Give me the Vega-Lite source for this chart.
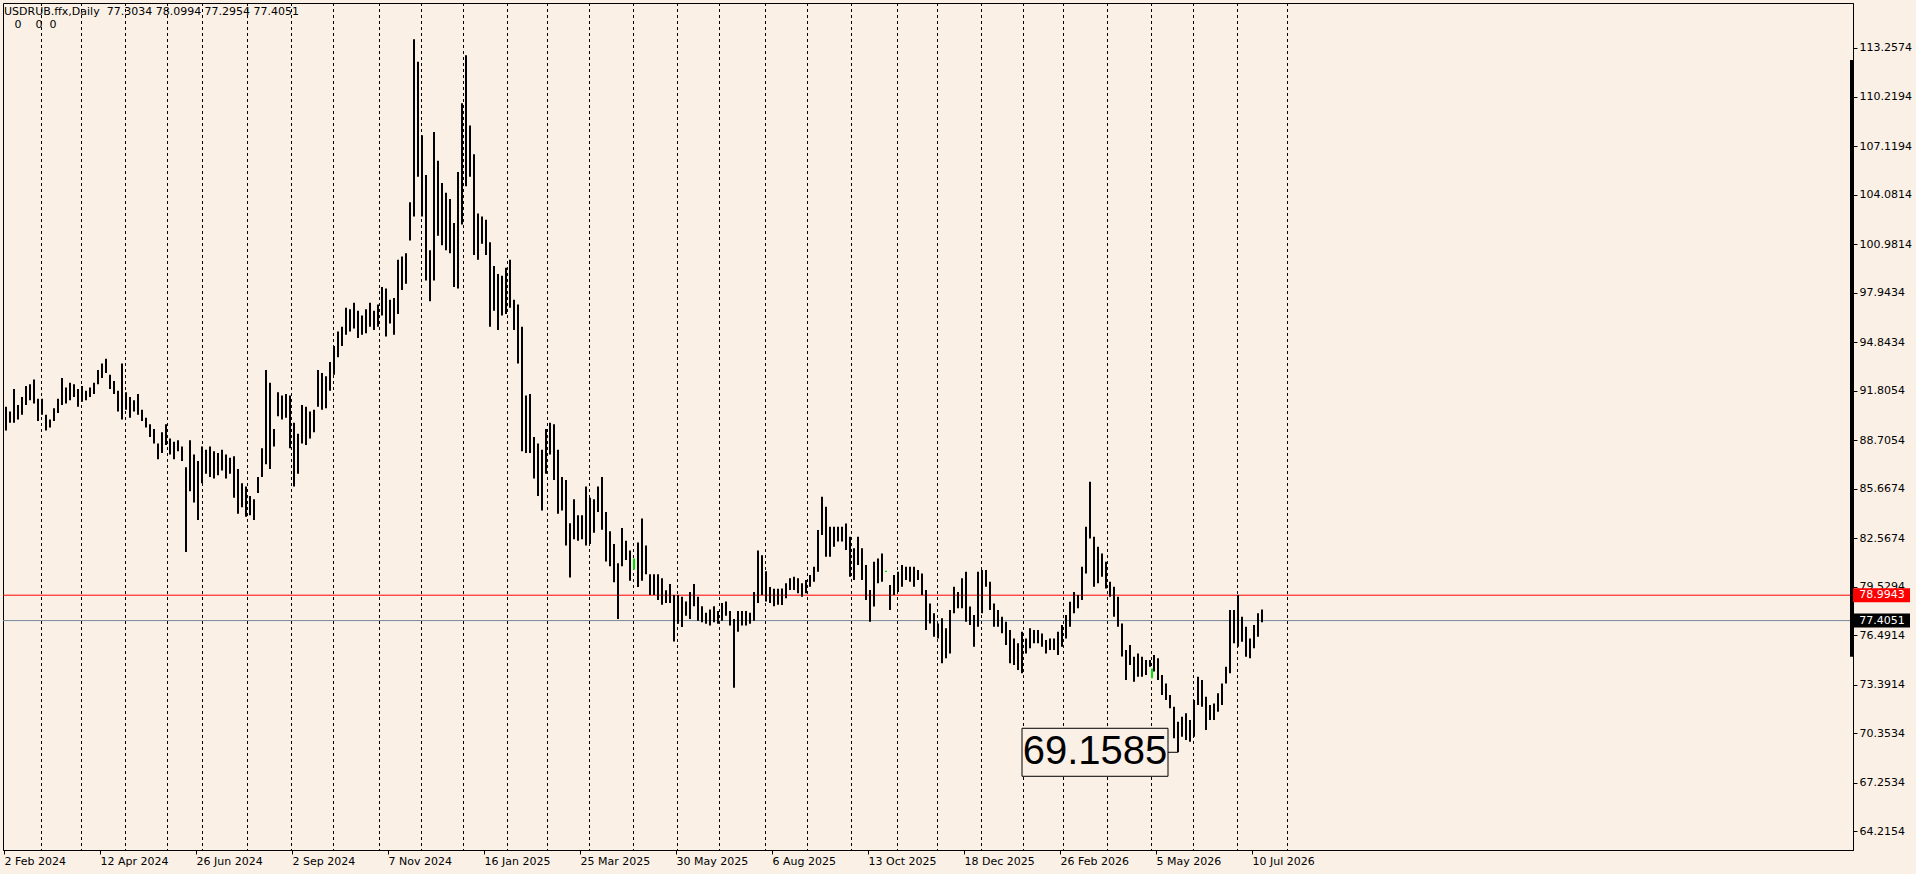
{
  "$schema": "https://vega.github.io/schema/vega-lite/v6.json",
  "width": 1850,
  "height": 847,
  "autosize": "none",
  "padding": {"left": 3, "top": 3, "right": 63, "bottom": 24},
  "background": "#FAF0E6",
  "title": {
    "text": ["USDRUB.ffx,Daily\u00a0\u00a077.3034 78.0994 77.2954 77.4051", "\u200b\u00a0\u00a0\u00a00\u00a0\u00a0\u00a0\u00a00\u00a0\u00a00"],
    "anchor": "start",
    "frame": "group",
    "orient": "top",
    "offset": 0,
    "dx": 1,
    "dy": 27,
    "font": "DejaVu Sans",
    "fontSize": 11,
    "fontWeight": "normal",
    "color": "#000000",
    "lineHeight": 12.5
  },
  "datasets": {
    "months": [
      {"i": 18.75}, {"i": 38.75}, {"i": 60.75}, {"i": 81.75}, {"i": 99.25}, {"i": 121.75},
      {"i": 143.75}, {"i": 164.75}, {"i": 187.75}, {"i": 208.75}, {"i": 229.75}, {"i": 251.75},
      {"i": 271.75}, {"i": 292.75}, {"i": 314.75}, {"i": 336.75}, {"i": 357.75}, {"i": 380.75},
      {"i": 401.75}, {"i": 423.75}, {"i": 446.75}, {"i": 466.75}, {"i": 488.75}, {"i": 509.75},
      {"i": 529.75}, {"i": 551.75}, {"i": 573.75}, {"i": 594.75}, {"i": 616.75}, {"i": 641.75}
    ],
    "levels": [
      {"name": "level", "p": 78.9943},
      {"name": "last", "p": 77.4051}
    ],
    "low": [{"i": 587, "p": 69.1585}],
    "range": [{"hi": 112.51, "lo": 75.14}],
    "doji": [
      {"i": 315, "h": 81.3, "l": 80.6},
      {"i": 441, "h": 80.52, "l": 80.44},
      {"i": 574, "h": 74.41, "l": 73.79}
    ],
    "bars": [
      {"i":1,"h":90.8,"l":89.3},{"i":3,"h":90.5,"l":89.8},{"i":5,"h":91.9,"l":89.8},{"i":7,"h":90.9,"l":90.0},
      {"i":9,"h":91.4,"l":90.3},{"i":11,"h":92.1,"l":90.9},{"i":13,"h":92.2,"l":91.2},{"i":15,"h":92.5,"l":91.0},
      {"i":17,"h":91.3,"l":89.9},{"i":19,"h":91.3,"l":90.3},{"i":21,"h":90.3,"l":89.3},{"i":23,"h":90.0,"l":89.5},
      {"i":25,"h":90.7,"l":89.9},{"i":27,"h":91.3,"l":90.4},{"i":29,"h":92.6,"l":90.9},{"i":31,"h":92.0,"l":91.0},
      {"i":33,"h":92.3,"l":91.2},{"i":35,"h":92.2,"l":91.4},{"i":37,"h":91.9,"l":90.8},{"i":39,"h":92.1,"l":91.1},
      {"i":41,"h":91.8,"l":91.2},{"i":43,"h":92.0,"l":91.4},{"i":45,"h":92.3,"l":91.6},{"i":47,"h":93.1,"l":92.2},
      {"i":49,"h":93.5,"l":92.6},{"i":51,"h":93.8,"l":92.9},{"i":53,"h":92.8,"l":91.9},{"i":55,"h":92.4,"l":91.6},
      {"i":57,"h":91.8,"l":90.5},{"i":59,"h":93.5,"l":90.0},{"i":61,"h":91.7,"l":90.6},{"i":63,"h":91.4,"l":90.1},
      {"i":65,"h":91.2,"l":90.5},{"i":67,"h":91.6,"l":90.3},{"i":69,"h":90.6,"l":89.9},{"i":71,"h":90.1,"l":89.5},
      {"i":73,"h":89.7,"l":88.9},{"i":75,"h":89.4,"l":88.5},{"i":77,"h":88.5,"l":87.5},{"i":79,"h":89.2,"l":87.9},
      {"i":81,"h":89.7,"l":88.4},{"i":83,"h":88.8,"l":87.8},{"i":85,"h":88.6,"l":87.5},{"i":87,"h":88.7,"l":88.0},
      {"i":89,"h":88.3,"l":87.4},{"i":91,"h":87.0,"l":81.7},{"i":93,"h":88.7,"l":85.5},{"i":95,"h":87.8,"l":84.8},
      {"i":97,"h":87.4,"l":83.7},{"i":99,"h":88.3,"l":86.0},{"i":101,"h":88.1,"l":86.6},{"i":103,"h":88.3,"l":86.4},
      {"i":105,"h":88.0,"l":86.3},{"i":107,"h":87.9,"l":86.5},{"i":109,"h":88.1,"l":86.8},{"i":111,"h":87.8,"l":86.3},
      {"i":113,"h":87.6,"l":86.6},{"i":115,"h":87.7,"l":85.1},{"i":117,"h":86.9,"l":84.1},{"i":119,"h":86.0,"l":84.5},
      {"i":121,"h":85.8,"l":83.9},{"i":123,"h":85.2,"l":84.0},{"i":125,"h":85.0,"l":83.7},{"i":127,"h":86.4,"l":85.4},
      {"i":129,"h":88.2,"l":86.4},{"i":131,"h":93.1,"l":87.2},{"i":133,"h":92.3,"l":86.9},{"i":135,"h":89.4,"l":88.3},
      {"i":137,"h":91.7,"l":90.2},{"i":139,"h":91.5,"l":90.0},{"i":141,"h":91.6,"l":90.1},{"i":143,"h":91.5,"l":88.2},
      {"i":145,"h":89.8,"l":85.8},{"i":147,"h":89.1,"l":86.6},{"i":149,"h":90.9,"l":88.5},{"i":151,"h":90.8,"l":88.4},
      {"i":153,"h":90.5,"l":88.8},{"i":155,"h":90.6,"l":89.2},{"i":157,"h":93.1,"l":90.8},{"i":159,"h":92.9,"l":90.6},
      {"i":161,"h":92.7,"l":90.7},{"i":163,"h":93.6,"l":91.8},{"i":165,"h":94.6,"l":92.8},{"i":167,"h":95.5,"l":93.9},
      {"i":169,"h":95.8,"l":94.6},{"i":171,"h":97.0,"l":95.3},{"i":173,"h":96.9,"l":95.5},{"i":175,"h":97.3,"l":95.7},
      {"i":177,"h":96.8,"l":95.1},{"i":179,"h":96.5,"l":95.3},{"i":181,"h":96.9,"l":95.4},{"i":183,"h":97.3,"l":95.8},
      {"i":185,"h":96.8,"l":95.6},{"i":187,"h":97.2,"l":95.8},{"i":189,"h":98.3,"l":96.5},{"i":191,"h":98.2,"l":95.2},
      {"i":193,"h":97.5,"l":96.0},{"i":195,"h":97.6,"l":95.3},{"i":197,"h":100.0,"l":96.6},{"i":199,"h":100.2,"l":98.1},
      {"i":201,"h":100.4,"l":98.5},{"i":203,"h":103.6,"l":101.2},{"i":205,"h":113.8,"l":102.7},{"i":207,"h":112.4,"l":105.2},
      {"i":209,"h":107.8,"l":102.7},{"i":211,"h":105.3,"l":98.7},{"i":213,"h":100.6,"l":97.4},{"i":215,"h":108.0,"l":98.7},
      {"i":217,"h":106.2,"l":101.5},{"i":219,"h":104.8,"l":100.9},{"i":221,"h":104.2,"l":100.6},{"i":223,"h":103.8,"l":100.4},
      {"i":225,"h":102.3,"l":98.3},{"i":227,"h":105.5,"l":98.2},{"i":229,"h":109.8,"l":102.2},{"i":231,"h":112.8,"l":104.6},
      {"i":233,"h":108.4,"l":105.2},{"i":235,"h":106.6,"l":100.3},{"i":237,"h":102.9,"l":100.0},{"i":239,"h":102.7,"l":101.0},
      {"i":241,"h":102.5,"l":100.3},{"i":243,"h":101.1,"l":95.8},{"i":245,"h":99.6,"l":96.8},{"i":247,"h":99.1,"l":95.6},
      {"i":249,"h":99.0,"l":96.5},{"i":251,"h":99.5,"l":96.6},{"i":253,"h":100.0,"l":97.0},{"i":255,"h":97.5,"l":95.6},
      {"i":257,"h":97.2,"l":93.5},{"i":259,"h":95.8,"l":88.0},{"i":261,"h":91.5,"l":87.9},{"i":263,"h":91.6,"l":87.9},
      {"i":265,"h":88.9,"l":86.3},{"i":267,"h":88.5,"l":85.2},{"i":269,"h":88.1,"l":84.3},{"i":271,"h":89.4,"l":86.6},
      {"i":273,"h":89.8,"l":87.8},{"i":275,"h":89.7,"l":86.2},{"i":277,"h":88.1,"l":84.1},{"i":279,"h":86.4,"l":84.3},
      {"i":281,"h":86.2,"l":82.1},{"i":283,"h":83.5,"l":80.1},{"i":285,"h":85.0,"l":82.5},{"i":287,"h":84.0,"l":82.4},
      {"i":289,"h":84.0,"l":82.5},{"i":291,"h":85.8,"l":82.1},{"i":293,"h":85.1,"l":82.2},{"i":295,"h":85.0,"l":82.9},
      {"i":297,"h":85.8,"l":84.2},{"i":299,"h":86.4,"l":83.1},{"i":301,"h":84.2,"l":81.1},{"i":303,"h":83.0,"l":80.8},
      {"i":305,"h":82.2,"l":79.8},{"i":307,"h":81.0,"l":77.5},{"i":309,"h":83.2,"l":80.8},{"i":311,"h":82.4,"l":81.2},
      {"i":313,"h":81.8,"l":79.9},{"i":317,"h":82.3,"l":79.5},{"i":319,"h":83.8,"l":79.9},{"i":321,"h":82.1,"l":80.3},
      {"i":323,"h":80.3,"l":79.0},{"i":325,"h":80.3,"l":79.0},{"i":327,"h":80.3,"l":78.7},{"i":329,"h":80.05,"l":78.4},
      {"i":331,"h":79.3,"l":78.5},{"i":333,"h":79.7,"l":78.5},{"i":335,"h":79.0,"l":76.1},{"i":337,"h":79.0,"l":77.2},
      {"i":339,"h":78.9,"l":77.0},{"i":341,"h":78.6,"l":77.7},{"i":343,"h":79.2,"l":77.5},{"i":345,"h":79.7,"l":78.3},
      {"i":347,"h":78.9,"l":77.4},{"i":349,"h":78.3,"l":77.3},{"i":351,"h":77.9,"l":77.2},{"i":353,"h":78.1,"l":77.1},
      {"i":355,"h":78.3,"l":77.3},{"i":357,"h":78.0,"l":77.2},{"i":359,"h":78.5,"l":77.4},{"i":361,"h":78.6,"l":77.7},
      {"i":363,"h":78.0,"l":77.1},{"i":365,"h":77.5,"l":73.2},{"i":367,"h":78.0,"l":76.7},{"i":369,"h":78.0,"l":77.1},
      {"i":371,"h":78.0,"l":77.1},{"i":373,"h":77.9,"l":77.2},{"i":375,"h":79.2,"l":77.4},{"i":377,"h":81.8,"l":78.5},
      {"i":379,"h":81.5,"l":79.0},{"i":381,"h":80.5,"l":78.6},{"i":383,"h":79.5,"l":78.5},{"i":385,"h":79.4,"l":78.3},
      {"i":387,"h":79.4,"l":78.4},{"i":389,"h":79.42,"l":78.38},{"i":391,"h":79.74,"l":78.8},{"i":393,"h":80.05,"l":79.32},
      {"i":395,"h":80.15,"l":79.32},{"i":397,"h":80.05,"l":79.11},{"i":399,"h":79.74,"l":78.9},{"i":401,"h":79.94,"l":79.11},
      {"i":403,"h":80.26,"l":79.53},{"i":405,"h":80.78,"l":79.84},{"i":407,"h":83.08,"l":80.47},{"i":409,"h":85.16,"l":82.76},
      {"i":411,"h":84.54,"l":81.4},{"i":413,"h":83.28,"l":81.4},{"i":415,"h":83.28,"l":82.03},{"i":417,"h":83.28,"l":82.35},
      {"i":419,"h":83.28,"l":82.35},{"i":421,"h":83.49,"l":81.82},{"i":423,"h":82.66,"l":80.15},{"i":425,"h":81.93,"l":79.94},
      {"i":427,"h":82.66,"l":80.88},{"i":429,"h":81.93,"l":79.94},{"i":431,"h":80.88,"l":78.69},{"i":433,"h":79.32,"l":77.33},
      {"i":435,"h":81.09,"l":78.28},{"i":437,"h":81.3,"l":79.74},{"i":439,"h":81.6,"l":79.84},{"i":443,"h":79.63,"l":78.07},
      {"i":445,"h":80.26,"l":79.0},{"i":447,"h":80.47,"l":79.2},{"i":449,"h":80.88,"l":79.53},{"i":451,"h":80.78,"l":79.94},
      {"i":453,"h":80.78,"l":79.84},{"i":455,"h":80.78,"l":79.53},{"i":457,"h":80.57,"l":79.94},{"i":459,"h":80.36,"l":79.0},
      {"i":461,"h":79.32,"l":76.81},{"i":463,"h":78.48,"l":77.23},{"i":465,"h":77.86,"l":76.4},{"i":467,"h":77.23,"l":76.29},
      {"i":469,"h":77.55,"l":74.73},{"i":471,"h":76.92,"l":75.04},{"i":473,"h":78.07,"l":75.35},{"i":475,"h":79.53,"l":77.86},
      {"i":477,"h":79.2,"l":78.17},{"i":479,"h":80.05,"l":78.17},{"i":481,"h":80.47,"l":77.33},{"i":483,"h":78.28,"l":77.13},
      {"i":485,"h":77.75,"l":75.77},{"i":487,"h":80.47,"l":77.02},{"i":489,"h":80.57,"l":77.86},{"i":491,"h":80.57,"l":79.53},
      {"i":493,"h":79.84,"l":78.07},{"i":495,"h":78.48,"l":77.02},{"i":497,"h":78.07,"l":77.02},{"i":499,"h":77.65,"l":76.61},
      {"i":501,"h":77.33,"l":75.87},{"i":503,"h":76.81,"l":74.73},{"i":505,"h":76.29,"l":74.62},{"i":507,"h":75.98,"l":74.31},
      {"i":509,"h":76.71,"l":74.1},{"i":511,"h":76.29,"l":75.35},{"i":513,"h":76.92,"l":75.67},{"i":515,"h":76.81,"l":75.98},
      {"i":517,"h":76.81,"l":75.98},{"i":519,"h":76.6,"l":75.77},{"i":521,"h":76.19,"l":75.35},{"i":523,"h":76.29,"l":75.56},
      {"i":525,"h":76.29,"l":75.56},{"i":527,"h":76.71,"l":75.25},{"i":529,"h":77.13,"l":75.77},{"i":531,"h":77.75,"l":76.29},
      {"i":533,"h":78.59,"l":77.02},{"i":535,"h":79.2,"l":77.86},{"i":537,"h":79.0,"l":78.17},{"i":539,"h":80.78,"l":78.69},
      {"i":541,"h":83.28,"l":80.36},{"i":543,"h":86.1,"l":82.55},{"i":545,"h":82.66,"l":79.53},{"i":547,"h":82.03,"l":79.74},
      {"i":549,"h":81.6,"l":80.15},{"i":551,"h":81.09,"l":79.42},{"i":553,"h":79.84,"l":78.9},{"i":555,"h":79.53,"l":77.65},
      {"i":557,"h":78.9,"l":77.02},{"i":559,"h":77.23,"l":75.15},{"i":561,"h":75.56,"l":73.68},{"i":563,"h":75.87,"l":74.62},
      {"i":565,"h":75.14,"l":73.58},{"i":567,"h":75.35,"l":73.89},{"i":569,"h":75.14,"l":73.89},{"i":571,"h":74.94,"l":74.0},
      {"i":573,"h":74.94,"l":74.52},{"i":575,"h":75.25,"l":74.21},{"i":577,"h":75.04,"l":73.68},{"i":579,"h":74.0,"l":72.74},
      {"i":581,"h":73.47,"l":72.43},{"i":583,"h":72.74,"l":71.91},{"i":585,"h":72.01,"l":70.03},{"i":587,"h":71.07,"l":69.1585},
      {"i":589,"h":71.39,"l":70.13},{"i":591,"h":71.6,"l":69.92},{"i":593,"h":71.18,"l":69.82},{"i":595,"h":72.43,"l":70.13},
      {"i":597,"h":73.89,"l":72.12},{"i":599,"h":73.68,"l":72.01},{"i":601,"h":72.64,"l":70.55},{"i":603,"h":72.12,"l":71.18},
      {"i":605,"h":72.22,"l":71.18},{"i":607,"h":72.85,"l":71.7},{"i":609,"h":73.47,"l":72.12},{"i":611,"h":74.52,"l":73.47},
      {"i":613,"h":78.07,"l":74.1},{"i":615,"h":78.07,"l":75.98},{"i":617,"h":79.0,"l":75.77},{"i":619,"h":77.65,"l":76.08},
      {"i":621,"h":77.02,"l":75.14},{"i":623,"h":76.29,"l":75.04},{"i":625,"h":77.13,"l":75.67},{"i":627,"h":77.86,"l":76.4},
      {"i":629,"h":78.0994,"l":77.2954}
    ]
  },
  "layer": [
    {
      "data": {"name": "months"},
      "mark": {"type": "rule", "color": "#000000", "strokeWidth": 1, "strokeDash": [3, 3]},
      "encoding": {
        "x": {"field": "i", "type": "quantitative", "scale": {"domain": [-0.5, 924.5], "nice": false, "zero": false},
          "axis": {
            "values": [0, 48, 96, 144, 192, 240, 288, 336, 384, 432, 480, 528, 576, 624],
            "labelExpr": "['2 Feb 2024','12 Apr 2024','26 Jun 2024','2 Sep 2024','7 Nov 2024','16 Jan 2025','25 Mar 2025','30 May 2025','6 Aug 2025','13 Oct 2025','18 Dec 2025','26 Feb 2026','5 May 2026','10 Jul 2026'][round(datum.value/48)]",
            "title": null, "grid": false, "labelAlign": "left", "labelBaseline": "top",
            "tickSize": 4, "labelPadding": 1, "labelFlush": false, "labelOverlap": false, "labelBound": false,
            "domainColor": "#000000", "tickColor": "#000000", "labelColor": "#000000",
            "labelFont": "DejaVu Sans", "labelFontSize": 11
          }}
      }
    },
    {
      "data": {"name": "levels"},
      "mark": {"type": "rule", "strokeWidth": 1},
      "encoding": {
        "y": {"field": "p", "type": "quantitative", "scale": {"domain": [63.04, 116.075], "nice": false, "zero": false},
          "axis": {
            "orient": "right",
            "values": [113.2574, 110.2194, 107.1194, 104.0814, 100.9814, 97.9434, 94.8434, 91.8054, 88.7054, 85.6674, 82.5674, 79.5294, 76.4914, 73.3914, 70.3534, 67.2534, 64.2154],
            "format": ".4f", "title": null, "grid": false,
            "tickSize": 4, "labelPadding": 2, "labelOverlap": false, "labelBound": false, "labelFlush": false,
            "domainColor": "#000000", "tickColor": "#000000", "labelColor": "#000000",
            "labelFont": "DejaVu Sans", "labelFontSize": 11
          }},
        "color": {"condition": {"test": "datum.name === 'level'", "value": "#FF0000"}, "value": "#778899"}
      }
    },
    {
      "data": {"name": "bars"},
      "mark": {"type": "rule", "color": "#000000", "strokeWidth": 2},
      "encoding": {
        "x": {"field": "i", "type": "quantitative", "scale": {"domain": [-0.5, 924.5], "nice": false, "zero": false}},
        "y": {"field": "h", "type": "quantitative", "scale": {"domain": [63.04, 116.075], "nice": false, "zero": false}},
        "y2": {"field": "l"}
      }
    },
    {
      "data": {"name": "doji"},
      "mark": {"type": "rule", "color": "#00E000", "strokeWidth": 2},
      "encoding": {
        "x": {"field": "i", "type": "quantitative", "scale": {"domain": [-0.5, 924.5], "nice": false, "zero": false}},
        "y": {"field": "h", "type": "quantitative", "scale": {"domain": [63.04, 116.075], "nice": false, "zero": false}},
        "y2": {"field": "l"}
      }
    },
    {
      "data": {"name": "low"},
      "mark": {"type": "tick", "orient": "horizontal", "size": 146, "thickness": 48, "fill": "#FAF0E6", "stroke": "#000000", "strokeWidth": 1, "opacity": 1},
      "encoding": {
        "x": {"datum": 545.5, "type": "quantitative", "scale": {"domain": [-0.5, 924.5], "nice": false, "zero": false}},
        "y": {"field": "p", "type": "quantitative", "scale": {"domain": [63.04, 116.075], "nice": false, "zero": false}}
      }
    },
    {
      "data": {"name": "low"},
      "mark": {"type": "tick", "orient": "horizontal", "size": 10, "thickness": 1, "color": "#000000", "opacity": 1},
      "encoding": {
        "x": {"datum": 584.45, "type": "quantitative", "scale": {"domain": [-0.5, 924.5], "nice": false, "zero": false}},
        "y": {"field": "p", "type": "quantitative", "scale": {"domain": [63.04, 116.075], "nice": false, "zero": false}}
      }
    },
    {
      "data": {"name": "low"},
      "mark": {"type": "text", "font": "Liberation Sans", "fontSize": 40, "color": "#000000", "align": "center", "baseline": "middle"},
      "encoding": {
        "x": {"datum": 545.5, "type": "quantitative", "scale": {"domain": [-0.5, 924.5], "nice": false, "zero": false}},
        "y": {"field": "p", "type": "quantitative", "scale": {"domain": [63.04, 116.075], "nice": false, "zero": false}},
        "text": {"field": "p", "type": "quantitative", "format": ".4f"}
      }
    },
    {
      "data": {"name": "range"},
      "mark": {"type": "rule", "color": "#000000", "strokeWidth": 4},
      "encoding": {
        "x": {"datum": 924, "type": "quantitative", "scale": {"domain": [-0.5, 924.5], "nice": false, "zero": false}},
        "y": {"field": "hi", "type": "quantitative", "scale": {"domain": [63.04, 116.075], "nice": false, "zero": false}},
        "y2": {"field": "lo"}
      }
    },
    {
      "data": {"name": "levels"},
      "mark": {"type": "tick", "orient": "horizontal", "size": 57, "thickness": 14, "opacity": 1},
      "encoding": {
        "x": {"datum": 938.75, "type": "quantitative", "scale": {"domain": [-0.5, 924.5], "nice": false, "zero": false}},
        "y": {"field": "p", "type": "quantitative", "scale": {"domain": [63.04, 116.075], "nice": false, "zero": false}},
        "color": {"condition": {"test": "datum.name === 'level'", "value": "#FF0000"}, "value": "#000000"}
      }
    },
    {
      "data": {"name": "levels"},
      "mark": {"type": "text", "font": "DejaVu Sans", "fontSize": 11, "color": "#FFFFFF", "align": "left", "baseline": "middle"},
      "encoding": {
        "x": {"datum": 927.65, "type": "quantitative", "scale": {"domain": [-0.5, 924.5], "nice": false, "zero": false}},
        "y": {"field": "p", "type": "quantitative", "scale": {"domain": [63.04, 116.075], "nice": false, "zero": false}},
        "text": {"field": "p", "type": "quantitative", "format": ".4f"}
      }
    }
  ],
  "config": {
    "view": {"stroke": "#000000", "strokeWidth": 1}
  }
}
